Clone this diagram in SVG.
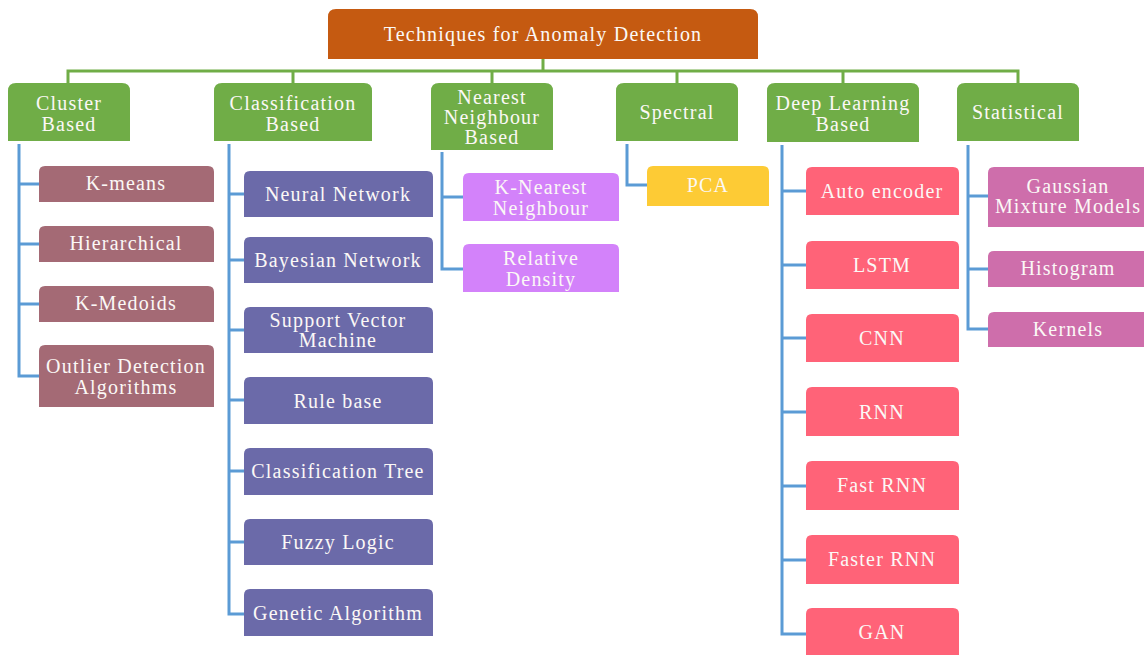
<svg xmlns="http://www.w3.org/2000/svg" width="1144" height="655" viewBox="0 0 1144 655">
  <defs>
    <style>
      text { font-family: "Liberation Serif", "Times New Roman", "DejaVu Serif", serif; font-size: 20px; letter-spacing: 1.2px; fill: #fbf8f6; text-anchor: middle; }
      .trunk { stroke: #70AD47; stroke-width: 3; fill: none; }
      .branch { stroke: #5B9BD5; stroke-width: 3; fill: none; }
      .root { fill: #C55A11; }
      .cat { fill: #70AD47; }
      .clu { fill: #A46A75; }
      .cls { fill: #6B6AA9; }
      .nn { fill: #D382FA; }
      .spc { fill: #FDCB35; }
      .dl { fill: #FF6378; }
      .st { fill: #CE6EAB; }
    </style>
  </defs>

  <!-- connectors -->
  <g id="connectors">
    <path class="trunk" d="M543 59 V71 M68 83 V71 H1018 V83 M293 71 V83 M492 71 V83 M677 71 V83 M843 71 V83"/>
    <path class="branch" d="M19 144 V376 H39 M19 184 H39 M19 244 H39 M19 304 H39"/>
    <path class="branch" d="M229 144 V614 H244 M229 194 H244 M229 260 H244 M229 330 H244 M229 400 H244 M229 471 H244 M229 542 H244"/>
    <path class="branch" d="M442 152 V269 H463 M442 197 H463"/>
    <path class="branch" d="M627 144 V185 H647"/>
    <path class="branch" d="M782 145 V634 H806 M782 191 H806 M782 265 H806 M782 338 H806 M782 412 H806 M782 486 H806 M782 560 H806"/>
    <path class="branch" d="M968 145 V329 H988 M968 196 H988 M968 269 H988"/>
  </g>

  <!-- root -->
  <g id="root">
    <path class="root" d="M328 59 V17 Q328 9 336 9 H750 Q758 9 758 17 V59 Z"/>
    <text x="543" y="41">Techniques for Anomaly Detection</text>
  </g>

  <!-- categories -->
  <g id="cluster-based">
    <path class="cat" d="M8 141 V91 Q8 83 16 83 H122 Q130 83 130 91 V141 Z"/>
    <text x="69" y="110">Cluster</text><text x="69" y="131">Based</text>
  </g>
  <g id="classification-based">
    <path class="cat" d="M214 141 V91 Q214 83 222 83 H364 Q372 83 372 91 V141 Z"/>
    <text x="293" y="110">Classification</text><text x="293" y="131">Based</text>
  </g>
  <g id="nearest-neighbour-based">
    <path class="cat" d="M431 150 V91 Q431 83 439 83 H545 Q553 83 553 91 V150 Z"/>
    <text x="492" y="104">Nearest</text><text x="492" y="124">Neighbour</text><text x="492" y="144">Based</text>
  </g>
  <g id="spectral">
    <path class="cat" d="M616 141 V91 Q616 83 624 83 H730 Q738 83 738 91 V141 Z"/>
    <text x="677" y="119">Spectral</text>
  </g>
  <g id="deep-learning-based">
    <path class="cat" d="M767 142 V91 Q767 83 775 83 H911 Q919 83 919 91 V142 Z"/>
    <text x="843" y="110">Deep Learning</text><text x="843" y="131">Based</text>
  </g>
  <g id="statistical">
    <path class="cat" d="M957 141 V91 Q957 83 965 83 H1071 Q1079 83 1079 91 V141 Z"/>
    <text x="1018" y="119">Statistical</text>
  </g>

  <!-- cluster based -->
  <g id="k-means"><path class="clu" d="M39 202 V172 Q39 166 45 166 H208 Q214 166 214 172 V202 Z"/><text x="126" y="190">K-means</text></g>
  <g id="hierarchical"><path class="clu" d="M39 262 V232 Q39 226 45 226 H208 Q214 226 214 232 V262 Z"/><text x="126" y="250">Hierarchical</text></g>
  <g id="k-medoids"><path class="clu" d="M39 322 V292 Q39 286 45 286 H208 Q214 286 214 292 V322 Z"/><text x="126" y="310">K-Medoids</text></g>
  <g id="outlier-detection"><path class="clu" d="M39 407 V351 Q39 345 45 345 H208 Q214 345 214 351 V407 Z"/><text x="126" y="373">Outlier  Detection</text><text x="126" y="394">Algorithms</text></g>

  <!-- classification based -->
  <g id="neural-network"><path class="cls" d="M244 217 V177 Q244 171 250 171 H427 Q433 171 433 177 V217 Z"/><text x="338" y="201">Neural  Network</text></g>
  <g id="bayesian-network"><path class="cls" d="M244 283 V243 Q244 237 250 237 H427 Q433 237 433 243 V283 Z"/><text x="338" y="267">Bayesian  Network</text></g>
  <g id="svm"><path class="cls" d="M244 353 V313 Q244 307 250 307 H427 Q433 307 433 313 V353 Z"/><text x="338" y="327">Support Vector</text><text x="338" y="347">Machine</text></g>
  <g id="rule-base"><path class="cls" d="M244 424 V383 Q244 377 250 377 H427 Q433 377 433 383 V424 Z"/><text x="338" y="408">Rule  base</text></g>
  <g id="classification-tree"><path class="cls" d="M244 495 V454 Q244 448 250 448 H427 Q433 448 433 454 V495 Z"/><text x="338" y="478">Classification  Tree</text></g>
  <g id="fuzzy-logic"><path class="cls" d="M244 565 V525 Q244 519 250 519 H427 Q433 519 433 525 V565 Z"/><text x="338" y="549">Fuzzy  Logic</text></g>
  <g id="genetic-algorithm"><path class="cls" d="M244 636 V595 Q244 589 250 589 H427 Q433 589 433 595 V636 Z"/><text x="338" y="620">Genetic  Algorithm</text></g>

  <!-- nearest neighbour based -->
  <g id="k-nearest-neighbour"><path class="nn" d="M463 221 V179 Q463 173 469 173 H613 Q619 173 619 179 V221 Z"/><text x="541" y="194">K-Nearest</text><text x="541" y="215">Neighbour</text></g>
  <g id="relative-density"><path class="nn" d="M463 292 V250 Q463 244 469 244 H613 Q619 244 619 250 V292 Z"/><text x="541" y="265">Relative</text><text x="541" y="286">Density</text></g>

  <!-- spectral -->
  <g id="pca"><path class="spc" d="M647 206 V172 Q647 166 653 166 H763 Q769 166 769 172 V206 Z"/><text x="708" y="192">PCA</text></g>

  <!-- deep learning based -->
  <g id="auto-encoder"><path class="dl" d="M806 215 V173 Q806 167 812 167 H953 Q959 167 959 173 V215 Z"/><text x="882" y="198">Auto encoder</text></g>
  <g id="lstm"><path class="dl" d="M806 289 V247 Q806 241 812 241 H953 Q959 241 959 247 V289 Z"/><text x="882" y="272">LSTM</text></g>
  <g id="cnn"><path class="dl" d="M806 362 V320 Q806 314 812 314 H953 Q959 314 959 320 V362 Z"/><text x="882" y="345">CNN</text></g>
  <g id="rnn"><path class="dl" d="M806 436 V393 Q806 387 812 387 H953 Q959 387 959 393 V436 Z"/><text x="882" y="419">RNN</text></g>
  <g id="fast-rnn"><path class="dl" d="M806 510 V467 Q806 461 812 461 H953 Q959 461 959 467 V510 Z"/><text x="882" y="492">Fast RNN</text></g>
  <g id="faster-rnn"><path class="dl" d="M806 584 V541 Q806 535 812 535 H953 Q959 535 959 541 V584 Z"/><text x="882" y="566">Faster RNN</text></g>
  <g id="gan"><path class="dl" d="M806 655 V614 Q806 608 812 608 H953 Q959 608 959 614 V655 Z"/><text x="882" y="639">GAN</text></g>

  <!-- statistical -->
  <g id="gaussian-mixture"><path class="st" d="M988 227 V173 Q988 167 994 167 H1144 V227 Z"/><text x="1068" y="193">Gaussian</text><text x="1068" y="213">Mixture  Models</text></g>
  <g id="histogram"><path class="st" d="M988 287 V257 Q988 251 994 251 H1144 V287 Z"/><text x="1068" y="275">Histogram</text></g>
  <g id="kernels"><path class="st" d="M988 347 V318 Q988 312 994 312 H1144 V347 Z"/><text x="1068" y="336">Kernels</text></g>
</svg>
